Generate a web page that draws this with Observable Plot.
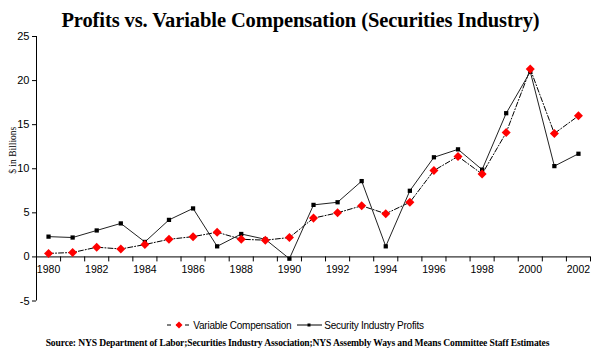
<!DOCTYPE html>
<html>
<head>
<meta charset="utf-8">
<script src="https://cdn.jsdelivr.net/npm/d3@7"></script>
<script src="https://cdn.jsdelivr.net/npm/@observablehq/plot@0.6"></script>
<style>
  html, body { margin: 0; padding: 0; background: #fff; width: 595px; height: 352px; overflow: hidden; }
  #title { height: 30px; line-height: 40px; text-align: center; font-family: "Liberation Serif", "Times New Roman", serif; font-weight: bold; font-size: 20.5px; color: #000; padding-left: 6px; white-space: nowrap; letter-spacing: -0.1px; }
  #chart { height: 280px; }
  #legend { margin-top: 5px; height: 20px; display: flex; justify-content: center; align-items: center; font-family: "Liberation Sans", Arial, sans-serif; font-size: 10px; letter-spacing: -0.25px; color: #000; margin-left: -5px; white-space: nowrap; }
  #legend .item { display: flex; align-items: center; margin: 0 1px; }
  #legend svg { margin-right: 1px; }
  #source { height: 16px; line-height: 16px; text-align: center; font-family: "Liberation Serif", "Times New Roman", serif; font-weight: bold; font-size: 9.6px; color: #000; white-space: nowrap; letter-spacing: -0.15px; }
</style>
</head>
<body>
<div id="title">Profits vs. Variable Compensation (Securities Industry)</div>
<div id="chart"></div>
<div id="legend">
  <div class="item">
    <svg width="26" height="10"><line x1="1" y1="5" x2="25" y2="5" stroke="#000" stroke-width="1" stroke-dasharray="4,5"/><path d="M13,1.5 L16.5,5 L13,8.5 L9.5,5 Z" fill="#ff0000"/></svg>
    <span>Variable Compensation</span>
  </div>
  <div class="item" style="margin-left:4px">
    <svg width="27" height="10"><line x1="1" y1="5" x2="26" y2="5" stroke="#000" stroke-width="1"/><rect x="11.5" y="3.5" width="3" height="3" fill="#000"/></svg>
    <span>Security Industry Profits</span>
  </div>
</div>
<div id="source">Source: NYS Department of Labor;Securities Industry Association;NYS Assembly Ways and Means Committee Staff Estimates</div>
<script>
const years = [1980,1981,1982,1983,1984,1985,1986,1987,1988,1989,1990,1991,1992,1993,1994,1995,1996,1997,1998,1999,2000,2001,2002];
const variableComp = [0.4,0.5,1.1,0.9,1.4,2.0,2.3,2.8,2.0,1.9,2.2,4.4,5.0,5.8,4.9,6.2,9.8,11.4,9.4,14.1,21.3,14.0,16.0];
const profits = [2.3,2.2,3.0,3.8,1.7,4.2,5.5,1.2,2.6,2.0,-0.2,5.9,6.2,8.6,1.2,7.5,11.3,12.2,9.9,16.3,21.0,10.3,11.7];
const yTicks = [-5,0,5,10,15,20,25];
const xLabels = years.filter(y => y % 2 === 0);
const xBounds = [...years.map(y => y - 0.5), years[years.length - 1] + 0.5];

const vc = years.map((y, i) => ({year: y, value: variableComp[i]}));
const pr = years.map((y, i) => ({year: y, value: profits[i]}));

// Excel-like square diamond marker
const diamondSym = {
  draw(context, size) {
    const r = Math.sqrt(size / 2);
    context.moveTo(0, -r);
    context.lineTo(r, 0);
    context.lineTo(0, r);
    context.lineTo(-r, 0);
    context.closePath();
  }
};

const chart = Plot.plot({
  width: 595,
  height: 280,
  marginLeft: 36,
  marginRight: 5,
  marginTop: 6,
  marginBottom: 9.5,
  style: {fontFamily: "Liberation Sans, Arial, sans-serif", background: "#fff", overflow: "visible"},
  x: {type: "linear", domain: [1979.5, 2002.5], axis: null},
  y: {domain: [-5, 25]},
  marks: [
    Plot.ruleY([0], {stroke: "#000", strokeWidth: 1}),
    Plot.ruleX([1979.5], {stroke: "#000", strokeWidth: 1}),
    Plot.ruleX(xBounds, {x: d => d, y1: 0, y2: 0, insetBottom: -5, stroke: "#000", strokeWidth: 1}),
    Plot.axisY({ticks: yTicks, tickSize: 4, tickPadding: 3, label: null, fontSize: 11, tickFormat: d => String(d)}),
    Plot.text(xLabels, {x: d => d, y: 0, text: d => String(d), dy: 13, fontSize: 10.5, fill: "#000"}),
    Plot.text(["$ in Billions"], {frameAnchor: "left", dx: -24, dy: 5, rotate: -90, fontFamily: "Liberation Serif, Times New Roman, serif", fontSize: 9.5, fill: "#000", text: d => d}),
    Plot.line(vc, {x: "year", y: "value", stroke: "#000", strokeWidth: 1, strokeDasharray: "5,2,1,2"}),
    Plot.line(pr, {x: "year", y: "value", stroke: "#222", strokeWidth: 1}),
    Plot.dot(pr, {x: "year", y: "value", symbol: "square", r: 2.4, fill: "#000", stroke: "none"}),
    Plot.dot(vc, {x: "year", y: "value", symbol: diamondSym, r: 3.6, fill: "#ff0000", stroke: "none"})
  ]
});
document.getElementById("chart").appendChild(chart);
</script>
</body>
</html>
